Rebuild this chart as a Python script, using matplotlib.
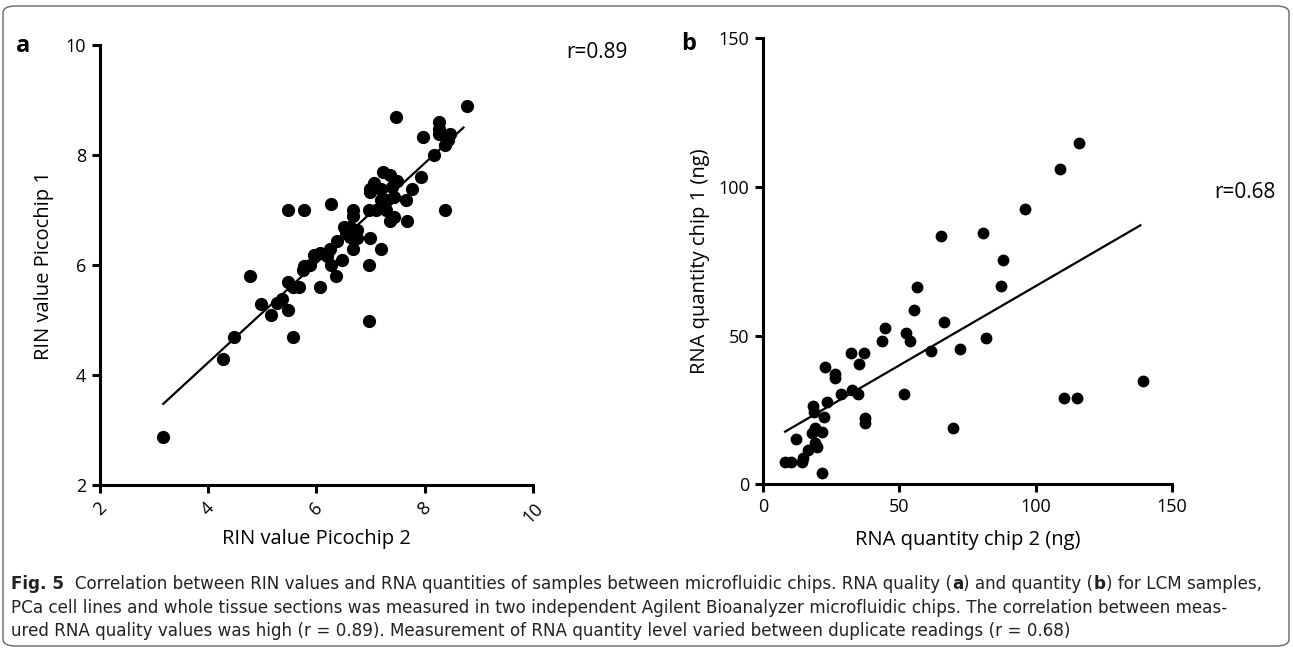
import matplotlib
matplotlib.use("Agg")
import matplotlib.pyplot as plt
from matplotlib.patches import FancyBboxPatch

plt.rcParams['font.family'] = ['Open Sans', 'DejaVu Sans']

# ── panel a: RIN values (Picochip 2 vs Picochip 1) ─────────────────────────
rin_chip2 = [3.17, 4.27, 4.47, 4.78, 4.97, 5.17, 5.28, 5.37, 5.47, 5.47,
             5.57, 5.57, 5.68, 5.78, 5.88, 5.75, 5.95, 6.06, 6.07, 6.19,
             6.28, 6.37, 6.48, 6.97, 6.97,
             8.78, 7.48, 8.27, 8.27, 8.27, 8.47, 8.43, 8.37, 7.98, 8.17,
             7.23, 7.37, 7.06, 6.99, 6.99, 7.19, 7.40, 7.49, 7.93, 7.77,
             7.65, 7.43, 7.31, 7.19, 6.97, 7.11, 7.28, 7.43, 7.68, 7.37,
             8.37, 5.48, 5.78, 6.27, 6.67, 6.67, 6.51, 6.63, 6.75, 6.54,
             6.63, 6.75, 6.99, 6.38, 6.26, 6.67, 7.19]
rin_chip1 = [2.88, 4.30, 4.69, 5.81, 5.30, 5.10, 5.31, 5.39, 5.19, 5.70,
             4.69, 5.60, 5.60, 5.98, 6.00, 5.92, 6.19, 6.22, 5.60, 6.16,
             6.00, 5.81, 6.10, 6.00, 4.99,
             8.90, 8.70, 8.61, 8.48, 8.39, 8.39, 8.27, 8.18, 8.32, 8.00,
             7.70, 7.64, 7.50, 7.39, 7.33, 7.39, 7.42, 7.52, 7.60, 7.39,
             7.19, 7.24, 7.18, 7.18, 7.00, 7.00, 7.00, 6.88, 6.80, 6.80,
             7.00, 7.00, 7.00, 7.11, 7.00, 6.90, 6.70, 6.70, 6.64, 6.58,
             6.52, 6.50, 6.50, 6.43, 6.30, 6.30, 6.30]
rin_fit_x = [3.17, 8.72]
rin_fit_y = [3.48, 8.50]

# ── panel b: RNA quantity (chip 2 vs chip 1, ng) ───────────────────────────
qty_chip2 = [115.8, 109.1, 96.2, 80.6, 65.2, 88.0,
             87.4, 56.4, 55.5, 66.2, 44.7, 52.3, 53.7, 43.6, 81.7, 61.5,
             72.1, 32.1, 37.0, 35.3, 22.7, 26.3, 26.3, 32.7, 34.6, 28.4,
             51.7, 110.5, 115.4, 139.5, 23.5, 18.1, 18.6, 22.4, 37.4, 37.4,
             69.6, 19.0, 17.8, 21.7, 12.0, 19.0, 19.9, 16.3, 14.5, 14.1,
             8.0, 10.0, 21.4]
qty_chip1 = [114.9, 106.0, 92.7, 84.5, 83.5, 75.5,
             66.6, 66.3, 58.7, 54.6, 52.6, 50.9, 48.2, 48.1, 49.2, 44.7,
             45.5, 44.0, 44.0, 40.6, 39.5, 37.0, 35.9, 31.7, 30.3, 30.3,
             30.4, 28.9, 28.9, 34.9, 27.7, 26.3, 24.2, 22.7, 22.4, 20.7,
             18.8, 18.8, 17.1, 17.7, 15.2, 13.8, 12.4, 11.5, 8.7, 7.4,
             7.6, 7.6, 3.7]
qty_fit_x = [8.0, 138.5]
qty_fit_y = [17.7, 87.1]

W, H = 1293, 649
fig = plt.figure(figsize=(W / 100, H / 100), dpi=100)


def px(x, y):
    # pixel position (top-left origin) -> figure fraction
    return x / W, 1 - y / H


def style_axes(ax):
    for s in ['top', 'right']:
        ax.spines[s].set_visible(False)
    for s in ['left', 'bottom']:
        ax.spines[s].set_linewidth(2.2)
    ax.tick_params(direction='out', length=6, width=2.2, labelsize=13, pad=4)


# ── panel a ────────────────────────────────────────────────────────────────
ax1 = fig.add_axes([100 / W, 1 - 485.3 / H, 432.7 / W, 440.3 / H])
ax1.plot(rin_chip2, rin_chip1, 'o', color='black', ms=8.5, clip_on=False)
ax1.plot(rin_fit_x, rin_fit_y, color='black', lw=1.6)
ax1.set_xlim(2, 10)
ax1.set_ylim(2, 10)
ax1.set_xticks([2, 4, 6, 8, 10])
ax1.set_yticks([2, 4, 6, 8, 10])
style_axes(ax1)
for lab in ax1.get_xticklabels():
    lab.set_rotation(45)
    lab.set_ha('center')
    lab.set_va('top')
ax1.set_xlabel('RIN value Picochip 2', fontsize=14.5, labelpad=2)
ax1.set_ylabel('RIN value Picochip 1', fontsize=14.5, labelpad=8)

# ── panel b ────────────────────────────────────────────────────────────────
ax2 = fig.add_axes([763.3 / W, 1 - 484.3 / H, 408.4 / W, 446 / H])
ax2.plot(qty_chip2, qty_chip1, 'o', color='black', ms=7.5, clip_on=False)
ax2.plot(qty_fit_x, qty_fit_y, color='black', lw=1.6)
ax2.set_xlim(0, 150)
ax2.set_ylim(0, 150)
ax2.set_xticks([0, 50, 100, 150])
ax2.set_yticks([0, 50, 100, 150])
style_axes(ax2)
ax2.set_xlabel('RNA quantity chip 2 (ng)', fontsize=14.5, labelpad=10)
ax2.set_ylabel('RNA quantity chip 1 (ng)', fontsize=14.5, labelpad=6)

# panel letters and r values
fig.text(*px(16, 46), 'a', fontsize=17, fontweight='bold', va='center', ha='left')
fig.text(*px(681, 44), 'b', fontsize=17, fontweight='bold', va='center', ha='left')
fig.text(*px(597, 52), 'r=0.89', fontsize=15, va='center', ha='center')
fig.text(*px(1245, 193), 'r=0.68', fontsize=15, va='center', ha='center')

# ── caption ────────────────────────────────────────────────────────────────
cap_lines = [
    [('Fig. 5', 'bold'), ('  Correlation between RIN values and RNA quantities of samples between '
                          'microfluidic chips. RNA quality (', 'normal'),
     ('a', 'bold'), (') and quantity (', 'normal'), ('b', 'bold'),
     (') for LCM samples,', 'normal')],
    [('PCa cell lines and whole tissue sections was measured in two independent Agilent '
      'Bioanalyzer microfluidic chips. The correlation between meas-', 'normal')],
    [('ured RNA quality values was high (r = 0.89). Measurement of RNA quantity level '
      'varied between duplicate readings (r = 0.68)', 'normal')],
]
cap_y = [584, 608, 631]
cap_family = ['Liberation Sans Narrow', 'DejaVu Sans']
renderer = fig.canvas.get_renderer()


def draw_line(parts, y, size):
    x = 11
    for txt, weight in parts:
        t = fig.text(*px(x, y), txt, fontsize=size, fontweight=weight,
                     family=cap_family, va='center', ha='left', color='#222222')
        x += t.get_window_extent(renderer).width
    return x


# fit the first line to the caption width
probe = draw_line(cap_lines[0], -100, 10)
size = 10 * (1262 - 11) / (probe - 11)
for t in list(fig.texts):
    if t.get_position()[1] > 1:
        t.remove()
for parts, y in zip(cap_lines, cap_y):
    draw_line(parts, y, size)

# figure frame
frame = FancyBboxPatch((3 / W, 3 / H), 1286 / W, 640 / H,
                       boxstyle='round,pad=0,rounding_size=0.01',
                       transform=fig.transFigure, fill=False,
                       edgecolor='#666666', lw=1.0)
fig.patches.append(frame)

fig.savefig('out.png', dpi=100)
